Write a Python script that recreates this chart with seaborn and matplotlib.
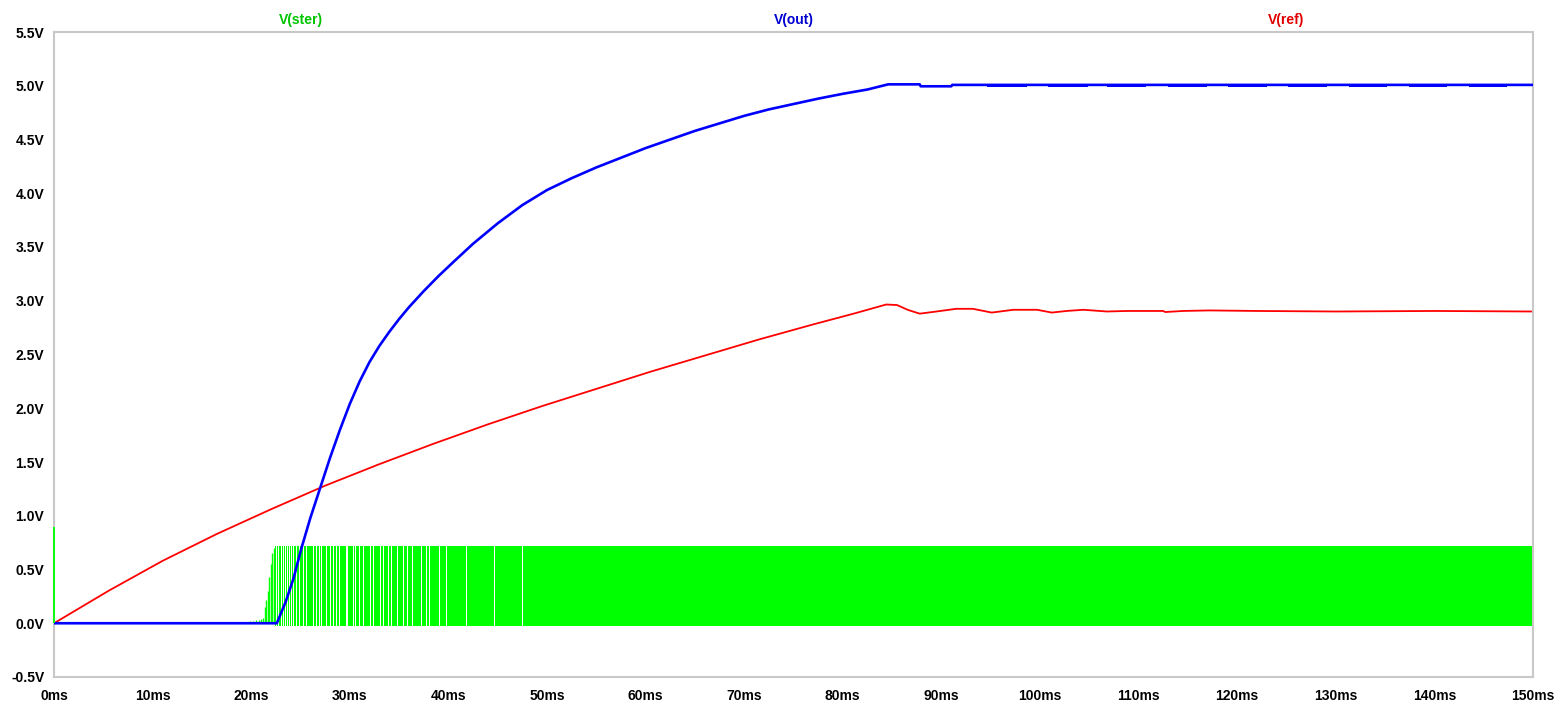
import numpy as np
import pandas as pd
import matplotlib
matplotlib.use("Agg")
import matplotlib.pyplot as plt
import seaborn as sns

# ---- V(ref): slow reference ramp, settling after ~85 ms ----
ref_t = [0, 5.5, 11, 16.5, 22, 27.5, 33, 38.5, 44, 49.5, 55, 60.5, 66, 71.5, 77,
         81.1, 84.4, 85.5, 86.6, 87.8, 89.5, 91.5, 93.2, 95.1, 97.3, 99.7, 101.2, 102.7, 104.4,
         106.8, 108.8, 112.5, 112.7, 114.5, 117.2, 122, 130, 140, 150]
ref_v = [0, 0.30, 0.58, 0.83, 1.06, 1.28, 1.48, 1.67, 1.85, 2.02, 2.18, 2.34, 2.49, 2.64, 2.78,
         2.88, 2.965, 2.96, 2.915, 2.88, 2.90, 2.925, 2.925, 2.89, 2.916, 2.916, 2.89, 2.905, 2.916,
         2.90, 2.905, 2.905, 2.895, 2.905, 2.91, 2.905, 2.90, 2.905, 2.90]

# ---- V(out): output rise once switching starts ----
out_t = [0, 22.6, 23.5, 24.3, 25.1, 26.0, 27.0, 28.0, 29.0, 30.0, 31.0, 32.0, 33.0, 34.0,
         35.0, 36.0, 37.5, 39.0, 40.5, 42.5, 45.0, 47.5, 50.0, 52.5, 55.0, 57.5, 60.0,
         62.5, 65.0, 67.5, 70.0, 72.5, 75.0, 77.5, 80.0, 82.5, 84.6, 87.8, 87.9, 91.0,
         91.1, 150]
out_v = [0, 0, 0.20, 0.42, 0.70, 0.98, 1.26, 1.54, 1.80, 2.04, 2.25, 2.43, 2.58, 2.71,
         2.83, 2.94, 3.09, 3.23, 3.36, 3.53, 3.72, 3.89, 4.03, 4.14, 4.24, 4.33, 4.42,
         4.50, 4.58, 4.65, 4.72, 4.78, 4.83, 4.88, 4.925, 4.965, 5.013, 5.013, 4.995, 4.995,
         5.008, 5.008]
# regulation ripple bursts on the 5 V plateau
ripple_start = [94.6, 100.8, 106.8, 113.0, 119.1, 125.2, 131.3, 137.4, 143.5]
ripple_end = [98.7, 104.9, 110.8, 116.9, 123.0, 129.1, 135.2, 141.3, 147.4]
ripple_lo = 4.99
ripple_hi = 5.02

# ---- V(ster): gate drive, PWM between low and high levels ----
ster_spike_v = 0.9          # start-up glitch at t = 0
pre_t = [19.9, 20.2, 20.5, 20.8, 21.0, 21.2, 21.4, 21.55, 21.7, 21.85, 22.0, 22.15, 22.3]
pre_v = [0.02, 0.02, 0.03, 0.03, 0.04, 0.05, 0.15, 0.22, 0.30, 0.43, 0.55, 0.65, 0.70]
burst_start = 22.4
burst_end = 150.0
ster_low = -0.025
ster_high = 0.72
# skipped cycles (output held low) during the soft start
skip_t = [22.6, 22.8, 23.1, 23.3, 23.5, 23.7, 23.9, 24.1, 24.3, 24.6, 24.9, 25.3, 25.6,
          26.3, 26.6, 26.9, 27.1, 27.6, 28.0, 28.3, 28.7, 29.0, 29.7, 29.8, 30.4, 30.6,
          31.0, 31.4, 32.1, 32.4, 33.1, 33.4, 33.9, 34.2, 34.8, 35.4, 35.9, 36.4, 37.3,
          37.8, 38.1, 39.1, 39.8, 41.8, 44.7, 47.5]
skip_w = [0.13] * 13 + [0.10] * 33

x_ticks = list(range(0, 151, 10))
x_labels = [f"{v}ms" for v in x_ticks]
y_ticks = [-0.5, 0.0, 0.5, 1.0, 1.5, 2.0, 2.5, 3.0, 3.5, 4.0, 4.5, 5.0, 5.5]
y_labels = [f"{v:.1f}V" for v in y_ticks]

series_names = ["V(ster)", "V(out)", "V(ref)"]
line_colors = ["#00ff00", "#0000ff", "#ff0000"]
title_colors = ["#00c400", "#0000d0", "#e00000"]

sns.set_style("white")
plt.rcParams["font.family"] = ["Liberation Sans", "DejaVu Sans"]

fig = plt.figure(figsize=(15.57, 7.01), dpi=100)
ax = fig.add_axes([54 / 1557, 1 - 677 / 701, (1533 - 54) / 1557, (677 - 32) / 701])

# V(ster)
green = line_colors[0]
ax.vlines([0.0], 0, ster_spike_v, color=green, lw=1.3, zorder=4, clip_on=False)
ax.plot([0, burst_start], [0.005, 0.005], color=green, lw=1.4, zorder=1)
ax.vlines(pre_t, 0, pre_v, color=green, lw=1.0, zorder=1)
edges = [burst_start]
for t, w in zip(skip_t, skip_w):
    edges += [t - w / 2, t + w / 2]
edges.append(burst_end)
for a, b in zip(edges[0::2], edges[1::2]):
    ax.fill_between([a, b], [ster_low, ster_low], [ster_high, ster_high],
                    color=green, lw=0, zorder=1)

# V(ref)
ref_df = pd.DataFrame({"t": ref_t, "v": ref_v})
sns.lineplot(data=ref_df, x="t", y="v", ax=ax, color=line_colors[2], lw=1.3,
             estimator=None, sort=False, zorder=2)

# V(out)
out_df = pd.DataFrame({"t": out_t, "v": out_v})
sns.lineplot(data=out_df, x="t", y="v", ax=ax, color=line_colors[1], lw=1.9,
             estimator=None, sort=False, zorder=3)
for a, b in zip(ripple_start, ripple_end):
    ax.fill_between([a, b], [ripple_lo, ripple_lo], [ripple_hi, ripple_hi],
                    color=line_colors[1], lw=0, zorder=3)

ax.set_xlim(0, 150)
ax.set_ylim(-0.5, 5.5)
ax.set_xticks(x_ticks)
ax.set_xticklabels(x_labels, fontweight="bold", fontsize=10)
ax.set_yticks(y_ticks)
ax.set_yticklabels(y_labels, fontweight="bold", fontsize=10)
ax.set_xlabel("")
ax.set_ylabel("")
ax.tick_params(axis="both", direction="out", length=6, width=1.2, color="#c4c4c4",
               labelcolor="black", pad=2)
ax.tick_params(axis="y", pad=1)
ax.tick_params(axis="x", pad=3)
for s in ax.spines.values():
    s.set_visible(True)
    s.set_color("#c8c8c8")
    s.set_linewidth(1.5)
ax.grid(False)

for frac, name, c in zip([1 / 6, 1 / 2, 5 / 6], series_names, title_colors):
    ax.text(frac, 1.0186, name, transform=ax.transAxes, ha="center", va="center",
            fontsize=10, fontweight="bold", color=c)

fig.savefig("out.png", dpi=100, facecolor="white")
